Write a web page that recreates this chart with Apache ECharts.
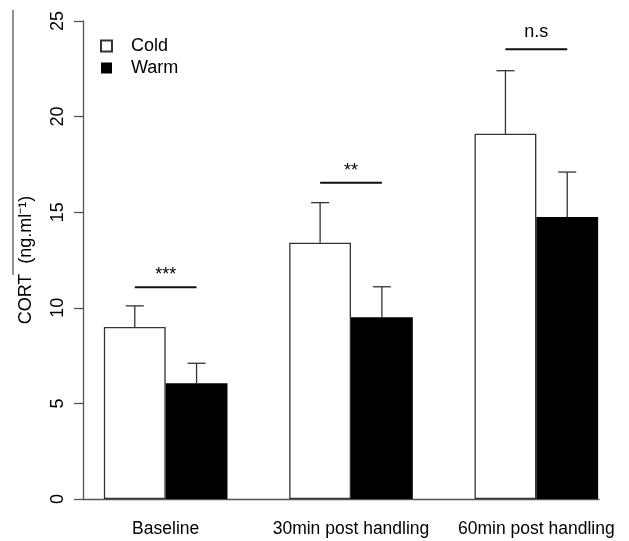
<!DOCTYPE html>
<html>
<head>
<meta charset="utf-8">
<script src="https://cdn.jsdelivr.net/npm/echarts@6/dist/echarts.min.js"></script>
<style>
html,body{margin:0;padding:0;background:#fff;}
#chart{width:629px;height:541px;}
</style>
</head>
<body>
<div id="chart"></div>
<script>
const categories = ['Baseline', '30min post handling', '60min post handling'];
const coldMean = [9.0, 13.4, 19.1];
const warmMean = [6.05, 9.5, 14.75];
const coldUpper = [10.1, 15.5, 22.4];
const warmUpper = [7.1, 11.1, 17.1];
const sigLevel = [11.07, 16.54, 23.52];
const sigLabels = ['***', '**', 'n.s'];
const yMin = 0, yMax = 25, yStep = 5;

const FONT = 'Liberation Sans, Arial, sans-serif';
const GAP_RATIO = 1 / 3;

const chart = echarts.init(document.getElementById('chart'), null, {renderer: 'canvas'});

function errRender(side) {
  return function (params, api) {
    const i = api.value(0);
    const top = api.coord([i, api.value(1)]);
    const up = api.coord([i, api.value(2)]);
    const band = api.size([1, 0])[0];
    const bw = band * (1 - GAP_RATIO) / 2;
    const x = top[0] + side * bw / 2;
    const cap = 9;
    return {
      type: 'group',
      children: [
        {type: 'line', shape: {x1: x, y1: top[1], x2: x, y2: up[1]}, style: {stroke: '#333', lineWidth: 1.3}},
        {type: 'line', shape: {x1: x - cap, y1: up[1], x2: x + cap, y2: up[1]}, style: {stroke: '#333', lineWidth: 1.3}}
      ]
    };
  };
}

function sigRender(params, api) {
  const i = api.value(0);
  const p = api.coord([i, api.value(1)]);
  const band = api.size([1, 0])[0];
  const bw = band * (1 - GAP_RATIO) / 2;
  const label = sigLabels[params.dataIndex];
  const off = label.indexOf('*') >= 0 ? 12 : 17;
  return {
    type: 'group',
    children: [
      {type: 'line', shape: {x1: p[0] - bw / 2, y1: p[1], x2: p[0] + bw / 2, y2: p[1]}, style: {stroke: '#111', lineWidth: 2}},
      {type: 'text', style: {x: p[0], y: p[1] - off, text: label, align: 'center', verticalAlign: 'middle', fill: '#000', font: '18px ' + FONT}}
    ]
  };
}

const option = {
  backgroundColor: '#fff',
  animation: false,
  textStyle: {fontFamily: FONT},
  grid: [
    {left: 73, right: 0, top: 21, bottom: 42},
    {left: 83, right: 30, top: 21, bottom: 42}
  ],
  legend: {
    orient: 'vertical',
    left: 95,
    top: 32,
    itemWidth: 11,
    itemHeight: 11,
    itemGap: 4,
    icon: 'rect',
    data: ['Cold', 'Warm'],
    textStyle: {fontSize: 18, color: '#000', fontFamily: FONT, lineHeight: 18, padding: [0, 0, 0, 14]}
  },
  xAxis: [
    {
      gridIndex: 0, type: 'category', data: categories,
      axisLine: {show: false}, axisTick: {show: false},
      axisLabel: {fontSize: 17.5, color: '#000', margin: 21, fontFamily: FONT, interval: 0}
    },
    {
      gridIndex: 1, type: 'value', min: 0, max: 1,
      axisLine: {show: true, onZero: false, lineStyle: {color: '#555', width: 1.3}},
      axisTick: {show: false}, axisLabel: {show: false}, splitLine: {show: false}
    }
  ],
  yAxis: [
    {gridIndex: 0, type: 'value', min: yMin, max: yMax, interval: yStep, show: false},
    {
      gridIndex: 1, type: 'value', min: yMin, max: yMax, interval: yStep,
      axisLine: {show: true, lineStyle: {color: '#555', width: 1.3}},
      axisTick: {show: true, length: 9, lineStyle: {color: '#555', width: 1.3}},
      axisLabel: {rotate: 90, fontSize: 18, color: '#000', margin: 16, fontFamily: FONT},
      splitLine: {show: false},
      name: 'CORT  (ng.ml\u207B\u00B9)',
      nameLocation: 'middle',
      nameRotate: 90,
      nameGap: 48,
      nameTextStyle: {fontSize: 18, color: '#000', fontFamily: FONT}
    }
  ],
  series: [
    {
      name: 'Cold', type: 'bar', xAxisIndex: 0, yAxisIndex: 0, data: coldMean,
      barGap: '0%', barCategoryGap: '33.3%',
      itemStyle: {color: '#fff', borderColor: '#333', borderWidth: 1.3}
    },
    {
      name: 'Warm', type: 'bar', xAxisIndex: 0, yAxisIndex: 0, data: warmMean,
      barGap: '0%', barCategoryGap: '33.3%',
      itemStyle: {color: '#000', borderColor: '#000', borderWidth: 0}
    },
    {
      type: 'custom', xAxisIndex: 0, yAxisIndex: 0, z: 5,
      renderItem: errRender(-1),
      data: categories.map((c, i) => [i, coldMean[i], coldUpper[i]])
    },
    {
      type: 'custom', xAxisIndex: 0, yAxisIndex: 0, z: 5,
      renderItem: errRender(1),
      data: categories.map((c, i) => [i, warmMean[i], warmUpper[i]])
    },
    {
      type: 'custom', xAxisIndex: 0, yAxisIndex: 0, z: 6, clip: false,
      renderItem: sigRender,
      data: categories.map((c, i) => [i, sigLevel[i]])
    }
  ],
  graphic: [
    {type: 'line', shape: {x1: 13, y1: 10, x2: 13, y2: 275}, style: {stroke: '#222', lineWidth: 1}}
  ]
};
chart.setOption(option);
</script>
</body>
</html>
